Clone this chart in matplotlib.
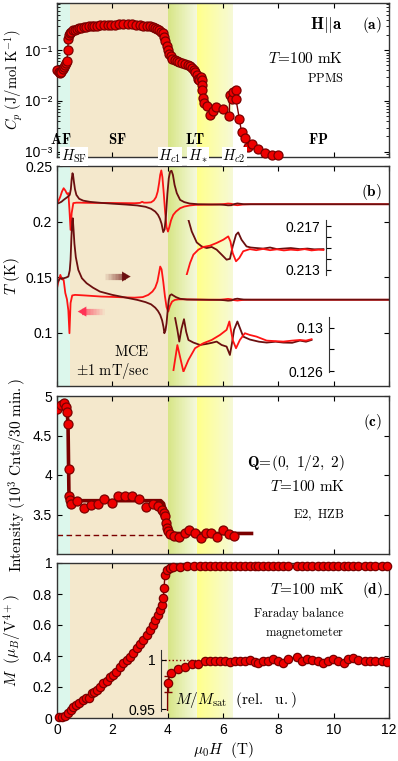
import numpy as np
import matplotlib
matplotlib.use('Agg')
import matplotlib.pyplot as plt
from matplotlib.colors import to_rgb
from matplotlib.ticker import FixedLocator, FuncFormatter, LogLocator, NullFormatter, NullLocator

plt.rcParams['font.family'] = ['Liberation Sans', 'DejaVu Sans']
plt.rcParams['mathtext.fontset'] = 'cm'
plt.rcParams['font.size'] = 10
plt.rcParams['xtick.direction'] = 'in'
plt.rcParams['ytick.direction'] = 'in'
plt.rcParams['xtick.top'] = True
plt.rcParams['ytick.right'] = True
plt.rcParams['axes.edgecolor'] = '#333333'

DARK = '#6b0f0f'
BRIGHT = '#ff1414'
MFC = '#ee0000'
MEC = '#7a0000'

# ---- phase boundaries (T) ----
H_AF = 0.46
H_C1 = 4.0
H_STAR = 5.06
H_C2 = 6.36

# ---- (a) specific heat ----
H_cp = [0.00, 0.06, 0.11, 0.16, 0.20, 0.25, 0.29, 0.33, 0.36, 0.39, 0.41, 0.44, 0.47, 0.52,
        0.58, 0.65, 0.72, 0.80, 0.88, 0.96, 1.05, 1.15, 1.25, 1.35, 1.45, 1.57, 1.70, 1.83,
        1.96, 2.10, 2.25, 2.40, 2.55, 2.70, 2.85, 3.00, 3.12, 3.25, 3.36, 3.46, 3.55, 3.63,
        3.70, 3.77, 3.83, 3.88, 3.92, 3.96, 4.00, 4.05, 4.11, 4.17, 4.25, 4.33, 4.42, 4.52,
        4.62, 4.72, 4.80, 4.87, 4.94, 5.00, 5.06, 5.11, 5.15, 5.20, 5.23, 5.24, 5.25, 5.28,
        5.31, 5.41, 5.53, 5.65, 5.75, 6.01, 6.23, 6.24, 6.31, 6.37, 6.47, 6.47, 6.59, 6.67,
        6.79, 6.91, 7.04, 7.28, 7.52, 7.76, 8.00]
Cp = [0.040, 0.037, 0.036, 0.038, 0.043, 0.047, 0.052, 0.057, 0.062, 0.100, 0.165, 0.195,
      0.215, 0.230, 0.245, 0.255, 0.262, 0.270, 0.276, 0.283, 0.290, 0.295, 0.299, 0.302,
      0.305, 0.308, 0.311, 0.314, 0.317, 0.320, 0.323, 0.327, 0.329, 0.328, 0.320, 0.312,
      0.306, 0.300, 0.293, 0.282, 0.272, 0.260, 0.247, 0.232, 0.217, 0.185, 0.155, 0.122,
      0.100, 0.086, 0.076, 0.068, 0.064, 0.061, 0.059, 0.057, 0.054, 0.052, 0.048, 0.045,
      0.041, 0.038, 0.033, 0.027, 0.026, 0.030, 0.026, 0.0205, 0.0168, 0.0115, 0.0092,
      0.0079, 0.0054, 0.0063, 0.0077, 0.0068, 0.0050, 0.0130, 0.0110, 0.0149, 0.0163,
      0.0107, 0.0045, 0.0024, 0.0019, 0.00125, 0.0014, 0.00112, 0.00093, 0.00086, 0.00086]

# ---- (b) magnetocaloric effect ----
H_ub = [0.00, 0.06, 0.12, 0.18, 0.24, 0.30, 0.36, 0.41, 0.45, 0.49, 0.53, 0.59, 0.70, 0.85,
        1.0, 1.3, 1.6, 2.0, 2.4, 2.8, 3.0, 3.08, 3.14, 3.25, 3.4, 3.5, 3.58, 3.64, 3.69, 3.73,
        3.77, 3.81, 3.86, 3.91, 3.96, 4.01, 4.06, 4.12, 4.2, 4.3, 4.45, 4.6, 4.8, 5.0, 5.3,
        5.6, 5.9, 6.05, 6.18, 6.3, 6.42, 6.52, 6.62, 6.75, 7.0, 7.5, 8.5, 9.5, 10.5, 11.5, 12.0]
T_ub = [0.2166, 0.2190, 0.2225, 0.2270, 0.2300, 0.2280, 0.2250, 0.2256, 0.2105, 0.1925,
        0.2076, 0.2166, 0.2170, 0.2170, 0.2169, 0.2168, 0.2168, 0.2167, 0.2166, 0.2165,
        0.2168, 0.2178, 0.2170, 0.2170, 0.2173, 0.2190, 0.2220, 0.2270, 0.2346, 0.2420,
        0.2460, 0.2400, 0.2250, 0.2080, 0.1950, 0.1910, 0.1950, 0.2010, 0.2060, 0.2090,
        0.2120, 0.2135, 0.2145, 0.2150, 0.2152, 0.2153, 0.2155, 0.2158, 0.2162, 0.2160,
        0.2150, 0.2147, 0.2150, 0.2154, 0.2156, 0.2156, 0.2156, 0.2156, 0.2156, 0.2156, 0.2156]
H_ud = [0.00, 0.08, 0.16, 0.24, 0.32, 0.40, 0.46, 0.50, 0.53, 0.56, 0.58, 0.61, 0.65, 0.70,
        0.80, 0.95, 1.2, 1.6, 2.0, 2.5, 2.9, 3.2, 3.4, 3.55, 3.65, 3.72, 3.78, 3.84, 3.89,
        3.94, 3.99, 4.04, 4.09, 4.14, 4.19, 4.25, 4.33, 4.45, 4.6, 4.8, 5.1, 5.5, 5.9, 6.05,
        6.18, 6.3, 6.42, 6.52, 6.62, 6.75, 7.0, 7.5, 8.5, 9.5, 10.5, 11.5, 12.0]
T_ud = [0.2160, 0.2168, 0.2178, 0.2195, 0.2210, 0.2225, 0.2240, 0.2290, 0.2380, 0.2435,
        0.2420, 0.2360, 0.2290, 0.2240, 0.2205, 0.2188, 0.2177, 0.2168, 0.2161, 0.2153,
        0.2145, 0.2133, 0.2115, 0.2090, 0.2060, 0.2025, 0.1980, 0.1905, 0.1930, 0.2060,
        0.2250, 0.2390, 0.2450, 0.2457, 0.2420, 0.2330, 0.2256, 0.2195, 0.2175, 0.2162,
        0.2156, 0.2154, 0.2153, 0.2150, 0.2146, 0.2147, 0.2158, 0.2163, 0.2160, 0.2156,
        0.2156, 0.2156, 0.2156, 0.2156, 0.2156, 0.2156, 0.2156]
H_lb = [0.00, 0.06, 0.12, 0.18, 0.24, 0.30, 0.36, 0.41, 0.45, 0.49, 0.55, 0.65, 0.8, 1.0,
        1.3, 1.6, 2.0, 2.4, 2.8, 3.1, 3.3, 3.45, 3.55, 3.63, 3.69, 3.73, 3.78, 3.84, 3.9,
        3.96, 4.02, 4.08, 4.16, 4.26, 4.4, 4.6, 5.0, 5.5, 5.9, 6.05, 6.18, 6.3, 6.42, 6.52,
        6.62, 6.75, 7.0, 7.5, 8.5, 9.5, 10.5, 11.5, 12.0]
T_lb = [0.1400, 0.1470, 0.1520, 0.1480, 0.1475, 0.1357, 0.1300, 0.1200, 0.0995, 0.1267,
        0.1335, 0.1340, 0.1338, 0.1335, 0.1330, 0.1325, 0.1322, 0.1318, 0.1315, 0.1320,
        0.1340, 0.1370, 0.1405, 0.1460, 0.1540, 0.1595, 0.1570, 0.1460, 0.1330, 0.1230,
        0.1190, 0.1240, 0.1280, 0.1295, 0.1300, 0.1300, 0.1298, 0.1296, 0.1297, 0.1300,
        0.1304, 0.1300, 0.1292, 0.1289, 0.1292, 0.1295, 0.1296, 0.1296, 0.1296, 0.1296,
        0.1296, 0.1296, 0.1296]
H_ld = [0.00, 0.06, 0.12, 0.18, 0.24, 0.32, 0.41, 0.46, 0.49, 0.52, 0.55, 0.57, 0.60, 0.63,
        0.68, 0.77, 0.9, 1.07, 1.3, 1.55, 2.0, 2.5, 2.9, 3.2, 3.4, 3.55, 3.65, 3.73, 3.8,
        3.85, 3.88, 3.92, 3.96, 4.0, 4.04, 4.08, 4.14, 4.2, 4.3, 4.45, 4.7, 5.2, 5.9, 6.05,
        6.18, 6.3, 6.42, 6.52, 6.62, 6.75, 7.0, 7.5, 8.5, 9.5, 10.5, 11.5, 12.0]
T_ld = [0.1445, 0.1470, 0.1490, 0.1485, 0.1490, 0.1495, 0.1505, 0.1560, 0.1655, 0.1850,
        0.2000, 0.2030, 0.1920, 0.1800, 0.1680, 0.1565, 0.1490, 0.1445, 0.1405, 0.1370,
        0.1340, 0.1315, 0.1295, 0.1275, 0.1255, 0.1225, 0.1195, 0.1160, 0.1110, 0.1050,
        0.0995, 0.1020, 0.1085, 0.1200, 0.1295, 0.1335, 0.1345, 0.1335, 0.1320, 0.1305,
        0.1298, 0.1297, 0.1295, 0.1292, 0.1288, 0.1290, 0.1302, 0.1306, 0.1302, 0.1298,
        0.1297, 0.1297, 0.1297, 0.1297, 0.1297, 0.1297, 0.1297]

# insets of (b): zoom on the high-field part
H_iud = [4.75, 4.87, 5.05, 5.23, 5.41, 5.59, 5.77, 5.95, 6.13, 6.25, 6.35, 6.47, 6.55, 6.67,
         6.85, 7.0, 7.21, 7.45, 7.7, 7.95, 8.18, 8.45, 8.78, 9.05, 9.3, 9.63]
T_iud = [0.21762, 0.21654, 0.21552, 0.21515, 0.21500, 0.21510, 0.21485, 0.21439, 0.21392,
         0.21400, 0.21515, 0.21623, 0.21645, 0.21577, 0.21515, 0.21505, 0.21500, 0.21495,
         0.21505, 0.21490, 0.21495, 0.21500, 0.21490, 0.21495, 0.21488, 0.21490]
H_iub = [4.69, 4.81, 4.93, 5.11, 5.29, 5.53, 5.77, 6.01, 6.19, 6.27, 6.35, 6.47, 6.59, 6.73,
         6.97, 7.2, 7.45, 7.7, 7.95, 8.2, 8.45, 8.7, 8.95, 9.2, 9.45, 9.63]
T_iub = [0.21254, 0.21362, 0.21439, 0.21485, 0.21510, 0.21522, 0.21547, 0.21577, 0.21608,
         0.21560, 0.21454, 0.21377, 0.21408, 0.21470, 0.21490, 0.21480, 0.21492, 0.21480,
         0.21488, 0.21478, 0.21485, 0.21480, 0.21490, 0.21478, 0.21485, 0.21482]
H_ild = [4.27, 4.35, 4.42, 4.50, 4.59, 4.67, 4.75, 4.93, 5.17, 5.41, 5.60, 5.77, 5.95, 6.13,
         6.25, 6.32, 6.40, 6.52, 6.62, 6.73, 6.97, 7.30, 7.58, 7.90, 8.18, 8.50, 8.78, 9.00, 9.20]
T_ild = [0.13087, 0.12980, 0.12871, 0.12990, 0.13077, 0.12960, 0.12886, 0.12862, 0.12840,
         0.12850, 0.12860, 0.12871, 0.12840, 0.12825, 0.12748, 0.12850, 0.12980, 0.13056,
         0.12990, 0.12917, 0.12890, 0.12870, 0.12862, 0.12870, 0.12862, 0.12860, 0.12880,
         0.12870, 0.12886]
H_ilb = [4.21, 4.35, 4.57, 4.75, 4.99, 5.29, 5.59, 5.89, 6.13, 6.23, 6.35, 6.47, 6.61, 6.79,
         6.97, 7.21, 7.58, 7.9, 8.18, 8.5, 8.78, 9.0, 9.2]
T_ilb = [0.12609, 0.12839, 0.12594, 0.12702, 0.12810, 0.12856, 0.12886, 0.12932, 0.12979,
         0.13056, 0.12886, 0.12810, 0.12886, 0.12948, 0.12932, 0.12917, 0.12880, 0.12875,
         0.12871, 0.12880, 0.12886, 0.12880, 0.12893]

# ---- (c) neutron intensity ----
H_c = [0.00, 0.14, 0.25, 0.33, 0.36, 0.40, 0.42, 0.45, 0.47, 0.50, 0.74, 0.98, 1.22, 1.47,
       1.70, 1.98, 2.22, 2.46, 2.70, 2.97, 3.20, 3.46, 3.66, 3.80, 3.86, 3.91, 3.94, 3.97,
       4.02, 4.08, 4.23, 4.40, 4.61, 4.77, 5.00, 5.20, 5.39, 5.57, 5.77, 6.00, 6.20, 6.40]
I_c = [4.84, 4.89, 4.91, 4.86, 4.80, 4.65, 4.08, 3.73, 3.68, 3.63, 3.67, 3.58, 3.62, 3.63,
       3.70, 3.65, 3.74, 3.74, 3.73, 3.70, 3.60, 3.63, 3.61, 3.56, 3.52, 3.48, 3.39, 3.33,
       3.29, 3.25, 3.23, 3.21, 3.27, 3.31, 3.26, 3.20, 3.26, 3.27, 3.21, 3.31, 3.25, 3.23]
H_fit = [0.0, 0.36, 0.40, 0.43, 0.47, 3.75, 3.85, 3.95, 4.02, 4.10, 7.03]
I_fit = [4.90, 4.90, 4.60, 3.80, 3.675, 3.675, 3.64, 3.50, 3.33, 3.26, 3.26]
H_bg = [0.0, 4.0]
I_bg = [3.245, 3.245]

# ---- (d) magnetization ----
H_sat = [5.35, 5.53, 5.71, 5.89, 6.07, 6.25, 6.42, 6.61, 6.79, 6.97, 7.15, 7.27, 7.45, 7.64,
         7.82, 8.00, 8.18, 8.36, 8.66, 8.84, 9.02, 9.20, 9.44, 9.62, 9.80, 9.98, 10.16, 10.37,
         10.53, 10.71, 10.89, 11.13, 11.31, 11.49, 11.73, 11.91]
H_m = [0.06, 0.17, 0.29, 0.41, 0.49, 0.59, 0.69, 0.81, 0.93, 1.05, 1.17, 1.25, 1.35, 1.43,
       1.55, 1.67, 1.79, 1.91, 2.03, 2.15, 2.28, 2.40, 2.52, 2.64, 2.76, 2.88, 3.00, 3.12,
       3.24, 3.36, 3.48, 3.56, 3.66, 3.74, 3.79, 3.84, 3.87, 3.90, 3.96, 4.08, 4.20, 4.45,
       4.70, 4.95, 5.17] + H_sat
M_m = [0.009, 0.004, 0.013, 0.030, 0.052, 0.073, 0.084, 0.095, 0.116, 0.127, 0.127, 0.159,
       0.170, 0.180, 0.202, 0.224, 0.241, 0.267, 0.277, 0.299, 0.327, 0.353, 0.374, 0.396,
       0.417, 0.449, 0.477, 0.503, 0.535, 0.568, 0.600, 0.632, 0.665, 0.697, 0.729, 0.772,
       0.837, 0.923, 0.955, 0.966, 0.972, 0.976, 0.978, 0.979, 0.980,
       0.980, 0.981, 0.980, 0.980, 0.981, 0.979, 0.980, 0.981, 0.980, 0.981, 0.979, 0.978,
       0.980, 0.980, 0.981, 0.980, 0.978, 0.981, 0.982, 0.980, 0.981, 0.980, 0.980, 0.978,
       0.980, 0.981, 0.979, 0.981, 0.980, 0.981, 0.980, 0.980, 0.980, 0.980, 0.980, 0.979]
H_rel = [3.99, 4.00, 4.11, 4.38, 4.63, 4.87, 5.11] + H_sat
M_rel = [0.900, 0.977, 0.9865, 0.9906, 0.9932, 0.9956, 0.9959,
         0.9993, 0.9993, 0.9993, 0.9993, 0.9993, 0.9983, 0.9993, 0.9993, 0.9993, 1.0000,
         0.9983, 0.9966, 0.9993, 0.9993, 1.0007, 0.9993, 0.9973, 1.0007, 1.0034, 0.9993,
         1.0007, 1.0000, 0.9993, 0.9966, 0.9993, 1.0007, 0.9993, 0.9973, 1.0007, 1.0017,
         1.0000, 0.9993, 0.9993, 0.9993, 0.9993, 0.9983]

# ------------------------------------------------------------------
W, Hpx = 398, 761
fig = plt.figure(figsize=(W / 100, Hpx / 100), dpi=100)


def box(top, bottom, left=57, right=389):
    return [left / W, 1 - bottom / Hpx, (right - left) / W, (bottom - top) / Hpx]


ax_a = fig.add_axes(box(3, 156.7))
ax_b = fig.add_axes(box(166, 386))
ax_c = fig.add_axes(box(396, 554))
ax_d = fig.add_axes(box(563, 718))
ax_a.set_zorder(5)


def gradient(ax, x0, x1, c0, c1, n=40):
    c0, c1 = np.array(to_rgb(c0)), np.array(to_rgb(c1))
    edges = np.linspace(x0, x1, n + 1)
    for i in range(n):
        f = i / (n - 1)
        ax.axvspan(edges[i], edges[i + 1] + 0.01, color=c0 + (c1 - c0) * f, lw=0, zorder=0)


def shade(ax):
    ax.axvspan(0, H_AF, color='#dcf7ec', lw=0, zorder=0)
    ax.axvspan(H_AF, H_C1, color='#f4e8cc', lw=0, zorder=0)
    gradient(ax, H_C1, H_STAR, '#d6e585', '#f5f8dc')
    gradient(ax, H_STAR, H_C2, '#ffff8a', '#f6f9d6')


for ax in (ax_a, ax_b, ax_c, ax_d):
    shade(ax)
    ax.set_xlim(0, 12)
    ax.xaxis.set_major_locator(FixedLocator([0, 2, 4, 6, 8, 10, 12]))
    ax.tick_params(length=3.5, width=0.8, labelsize=10)
    for s in ax.spines.values():
        s.set_linewidth(1.0)
    if ax is not ax_d:
        ax.set_xticklabels([])

mk = dict(marker='o', mfc=MFC, mec=MEC, mew=0.9)

# ---- (a) ----
ax_a.plot(H_cp, Cp, '-', color=MEC, lw=1.0, ms=6.5, zorder=3, clip_on=False, **mk)
ax_a.set_yscale('log')
ax_a.set_ylim(8e-4, 0.85)
ax_a.yaxis.set_major_locator(FixedLocator([1e-3, 1e-2, 1e-1]))
sup = {1e-3: '10\u207b\u00b3', 1e-2: '10\u207b\u00b2', 1e-1: '10\u207b\u00b9'}
ax_a.yaxis.set_major_formatter(FuncFormatter(lambda v, p: sup.get(v, '')))
ax_a.yaxis.set_minor_locator(LogLocator(base=10, subs=np.arange(2, 10)))
ax_a.yaxis.set_minor_formatter(NullFormatter())
ax_a.tick_params(which='minor', length=2, width=0.6)
ax_a.set_ylabel(r'$C_p\ (\mathrm{J/mol\ K^{-1}})$', fontsize=10.5)
ax_a.yaxis.set_label_coords(-0.095, 0.5)
ax_a.text(0.861, 0.857, r'$\mathbf{H||a}$', transform=ax_a.transAxes, ha='right', va='center', fontsize=12)
ax_a.text(0.979, 0.857, r'$\mathbf{(a)}$', transform=ax_a.transAxes, ha='right', va='center', fontsize=11)
ax_a.text(0.861, 0.642, r'$T\!=\!100\ \mathrm{mK}$', transform=ax_a.transAxes, ha='right', va='center', fontsize=11)
ax_a.text(0.865, 0.512, r'$\mathrm{PPMS}$', transform=ax_a.transAxes, ha='right', va='center', fontsize=9)
xt = ax_a.get_xaxis_transform()
for x, lab in [(0.13, 'AF'), (2.17, 'SF'), (5.0, 'LT'), (9.43, 'FP')]:
    ax_a.text(x, 0.109, r'$\mathbf{%s}$' % lab, transform=xt, ha='center', va='center', fontsize=10.5)
for x, lab in [(0.61, r'$H_\mathrm{SF}$'), (4.08, r'$H_{c1}$'), (5.1, r'$H_*$'), (6.4, r'$H_{c2}$')]:
    ax_a.text(x, 0.0, lab, transform=xt, ha='center', va='center', fontsize=10.5, zorder=10,
              clip_on=False, bbox=dict(facecolor='white', edgecolor='none', pad=0.6))

# ---- (b) ----
for h, t, c in [(H_ub, T_ub, BRIGHT), (H_ud, T_ud, DARK), (H_lb, T_lb, BRIGHT), (H_ld, T_ld, DARK)]:
    ax_b.plot(h, t, color=c, lw=1.3, zorder=2)
ax_b.set_ylim(0.052, 0.25)
ax_b.yaxis.set_major_locator(FixedLocator([0.1, 0.15, 0.2, 0.25]))
ax_b.yaxis.set_major_formatter(FuncFormatter(lambda v, p: '%g' % v))
ax_b.set_ylabel(r'$T\ (\mathrm{K})$', fontsize=11)
ax_b.yaxis.set_label_coords(-0.105, 0.5)
ax_b.text(0.979, 0.883, r'$\mathbf{(b)}$', transform=ax_b.transAxes, ha='right', va='center', fontsize=11)
ax_b.text(0.277, 0.156, r'$\mathrm{MCE}$', transform=ax_b.transAxes, ha='right', va='center', fontsize=10.5)
ax_b.text(0.277, 0.07, r'$\pm 1\ \mathrm{mT/sec}$', transform=ax_b.transAxes, ha='right', va='center', fontsize=10.5)


def fade_arrow(ax, x_tail, x_head, y, color, n=20):
    xs = np.linspace(x_tail, x_head, n + 1)
    body_end = x_head - 0.28 * np.sign(x_head - x_tail)
    for i in range(n):
        if abs(xs[i] - x_tail) > abs(body_end - x_tail):
            break
        ax.plot([xs[i], xs[i + 1]], [y, y], color=color, lw=4.5, alpha=(i + 1) / n,
                solid_capstyle='butt', zorder=3)
    ax.annotate('', xy=(x_head, y), xytext=(body_end, y),
                arrowprops=dict(arrowstyle='-|>,head_length=0.6,head_width=0.35',
                                color=color, lw=0.1), zorder=3)


fade_arrow(ax_b, 1.73, 2.76, 0.1505, DARK)
fade_arrow(ax_b, 1.73, 0.65, 0.119, '#ff3355')


def inset_b(top, bottom, xspine, ylim, ticks, labeled):
    ax = fig.add_axes(box(top, bottom))
    ax.set_facecolor('none')
    ax.set_xlim(0, 12)
    ax.set_ylim(*ylim)
    for s in ('top', 'bottom', 'right'):
        ax.spines[s].set_visible(False)
    ax.spines['left'].set_position(('data', xspine))
    ax.spines['left'].set_color('#333333')
    ax.xaxis.set_major_locator(NullLocator())
    ax.tick_params(axis='x', which='both', top=False, bottom=False)
    ax.tick_params(axis='y', right=False, length=3.5, width=0.8, labelsize=10, pad=4)
    ax.yaxis.set_major_locator(FixedLocator(ticks))
    ax.yaxis.set_major_formatter(FuncFormatter(lambda v, p: ('%g' % v) if round(v, 4) in labeled else ''))
    ax.set_zorder(6)
    return ax


ax_bi1 = inset_b(220, 275, 9.71, (0.2125, 0.2176), [0.213, 0.214, 0.215, 0.216, 0.217], [0.213, 0.217])
ax_bi1.plot(H_iud, T_iud, color=DARK, lw=1.3)
ax_bi1.plot(H_iub, T_iub, color=BRIGHT, lw=1.3)
ax_bi2 = inset_b(316.7, 371.7, 9.84, (0.12594, 0.1310), [0.126, 0.128, 0.130], [0.126, 0.13])
ax_bi2.plot(H_ild, T_ild, color=DARK, lw=1.3)
ax_bi2.plot(H_ilb, T_ilb, color=BRIGHT, lw=1.3)

# ---- (c) ----
ax_c.plot(H_fit, I_fit, '-', color='#7a0000', lw=2.6, zorder=2)
ax_c.plot(H_bg, I_bg, '--', color='#7a0000', lw=1.0, dashes=(4, 2.5), zorder=2)
ax_c.plot(H_c, I_c, ls='none', ms=6.5, zorder=3, **mk)
ax_c.set_ylim(3.0, 5.0)
ax_c.yaxis.set_major_locator(FixedLocator([3.5, 4, 4.5, 5]))
ax_c.yaxis.set_major_formatter(FuncFormatter(lambda v, p: '%g' % v))
ax_c.set_ylabel(r'$\mathrm{Intensity}\ (10^3\ \mathrm{Cnts/30\ min.})$', fontsize=11)
ax_c.yaxis.set_label_coords(-0.085, 0.5)
ax_c.text(0.979, 0.837, r'$\mathbf{(c)}$', transform=ax_c.transAxes, ha='right', va='center', fontsize=11)
ax_c.text(0.867, 0.576, r'$\mathbf{Q}\!=\!(0,\ 1/2,\ 2)$', transform=ax_c.transAxes, ha='right', va='center', fontsize=11)
ax_c.text(0.867, 0.426, r'$T\!=\!100\ \mathrm{mK}$', transform=ax_c.transAxes, ha='right', va='center', fontsize=11)
ax_c.text(0.865, 0.247, r'$\mathrm{E2,\ HZB}$', transform=ax_c.transAxes, ha='right', va='center', fontsize=9)

# ---- (d) ----
ax_d.plot(H_m, M_m, '-', color=MEC, lw=1.0, ms=6, zorder=3, clip_on=False, **mk)
ax_d.set_ylim(0, 1)
ax_d.yaxis.set_major_locator(FixedLocator([0, 0.2, 0.4, 0.6, 0.8, 1.0]))
ax_d.yaxis.set_major_formatter(FuncFormatter(lambda v, p: '%g' % v))
ax_d.set_ylabel(r'$M\ \ (\mu_B/\mathrm{V}^{4+})$', fontsize=11)
ax_d.yaxis.set_label_coords(-0.1, 0.5)
ax_d.set_xlabel(r'$\mu_0 H\ \ (\mathrm{T})$', fontsize=11, labelpad=2)
ax_d.xaxis.set_major_formatter(FuncFormatter(lambda v, p: '%g' % v))
ax_d.text(0.867, 0.826, r'$T\!=\!100\ \mathrm{mK}$', transform=ax_d.transAxes, ha='right', va='center', fontsize=11)
ax_d.text(0.982, 0.826, r'$\mathbf{(d)}$', transform=ax_d.transAxes, ha='right', va='center', fontsize=11)
ax_d.text(0.867, 0.677, r'$\mathrm{Faraday\ balance}$', transform=ax_d.transAxes, ha='right', va='center', fontsize=9)
ax_d.text(0.867, 0.548, r'$\mathrm{magnetometer}$', transform=ax_d.transAxes, ha='right', va='center', fontsize=9)
ax_d.text(4.26, 0.116, r'$M/M_\mathrm{sat}\ \ (\mathrm{rel.\ \ u.})$', ha='left', va='center', fontsize=11, zorder=6)

ax_di = fig.add_axes(box(650, 711))
ax_di.set_facecolor('none')
ax_di.set_xlim(0, 12)
ax_di.set_ylim(0.9483, 1.0101)
for s in ('top', 'bottom', 'right'):
    ax_di.spines[s].set_visible(False)
ax_di.spines['left'].set_position(('data', 3.75))
ax_di.xaxis.set_major_locator(NullLocator())
ax_di.tick_params(axis='x', which='both', top=False, bottom=False)
ax_di.tick_params(axis='y', right=False, length=3.5, width=0.8, labelsize=10, pad=4)
ax_di.yaxis.set_major_locator(FixedLocator([0.95, 1.0]))
ax_di.yaxis.set_major_formatter(FuncFormatter(lambda v, p: '%g' % v))
ax_di.axhline(1.0, xmin=3.75 / 12, color='#8b0000', lw=1.0, ls=':', zorder=1)
ax_di.plot(H_rel, M_rel, '-', color=MEC, lw=1.0, ms=6, zorder=3, **mk)
ax_di.errorbar([H_rel[1]], [M_rel[1]], yerr=[[0.009], [0.007]], fmt='none', ecolor=MEC,
               elinewidth=1.0, capsize=3, zorder=2)
ax_di.set_zorder(6)

fig.savefig('out.png', dpi=100)
